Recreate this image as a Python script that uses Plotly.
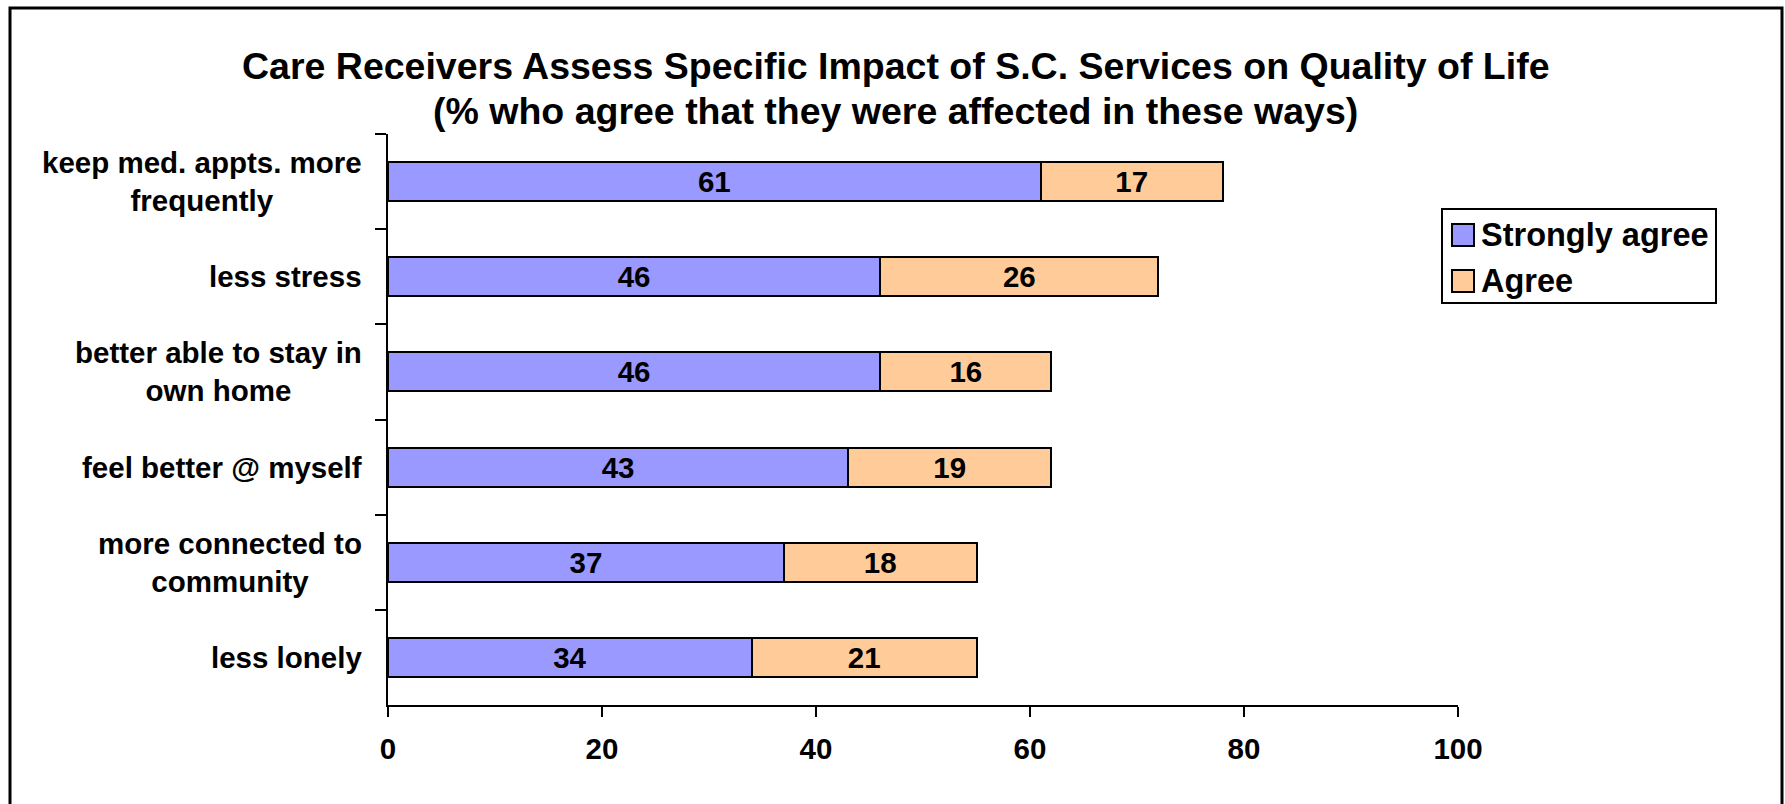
import plotly.graph_objects as go

# Survey items, top to bottom
categories = [
    "keep med. appts. more<br>frequently",
    "less stress",
    "better able to stay in<br>own home",
    "feel better @ myself",
    "more connected to<br>community",
    "less lonely",
]
series_names = ["Strongly agree", "Agree"]
strongly_agree = [61, 46, 46, 43, 37, 34]
agree = [17, 26, 16, 19, 18, 21]
x_ticks = [0, 20, 40, 60, 80, 100]

title_line1 = "Care Receivers Assess Specific Impact of S.C. Services on Quality of Life"
title_line2 = "(% who agree that they were affected in these ways)"

colors = ["#9999FF", "#FFCC99"]
FONT = "Liberation Sans, Arial, sans-serif"
LABEL_SIZE = 29.5

W, H = 1785, 804
L, R, T, B = 388, 327, 134, 99
PW, PH = W - L - R, H - T - B


def px(x):
    return (x - L) / PW


def py(y):
    return (H - B - y) / PH


fig = go.Figure()
for name, vals, col in zip(series_names, [strongly_agree, agree], colors):
    fig.add_trace(go.Bar(
        y=categories, x=vals, name=name, orientation="h",
        width=0.41,
        marker=dict(color=col, line=dict(color="black", width=2)),
        text=vals, textposition="inside", insidetextanchor="middle",
        constraintext="none",
        textfont=dict(family=FONT, size=LABEL_SIZE, color="black", weight="bold"),
        showlegend=False, hoverinfo="x+y+name",
    ))

annotations = []
# Category labels, centred line-by-line and right-aligned to the axis
for c in categories:
    annotations.append(dict(
        x=px(364), xref="paper", y=c, yref="y", text=c, showarrow=False,
        xanchor="right", yanchor="middle", align="center",
        font=dict(family=FONT, size=LABEL_SIZE, color="black", weight="bold"),
    ))

# Two-line title
for txt, yy in [(title_line1, 66), (title_line2, 111)]:
    annotations.append(dict(
        x=px(895), xref="paper", y=py(yy), yref="paper", text=txt,
        showarrow=False, xanchor="center", yanchor="middle",
        font=dict(family=FONT, size=37.5, color="black", weight="bold"),
    ))

shapes = []
# Outer chart frame
shapes.append(dict(type="rect", xref="paper", yref="paper",
                   x0=px(10), x1=px(1782), y0=py(8), y1=py(812),
                   line=dict(color="black", width=3), fillcolor="rgba(0,0,0,0)", layer="above"))

# Legend box
shapes.append(dict(type="rect", xref="paper", yref="paper",
                   x0=px(1442), x1=px(1716), y0=py(209), y1=py(303),
                   line=dict(color="black", width=2), fillcolor="white"))
for i, (name, col) in enumerate(zip(series_names, colors)):
    cy = 235 + 46 * i
    shapes.append(dict(type="rect", xref="paper", yref="paper",
                       x0=px(1452), x1=px(1474), y0=py(cy - 11), y1=py(cy + 11),
                       line=dict(color="black", width=2), fillcolor=col))
    annotations.append(dict(
        x=px(1479), xref="paper", y=py(cy), yref="paper", text=name,
        showarrow=False, xanchor="left", yanchor="middle",
        font=dict(family=FONT, size=32.5, color="black", weight="bold"),
    ))

fig.update_layout(
    barmode="stack",
    width=W, height=H,
    margin=dict(l=L, r=R, t=T, b=B, pad=0),
    paper_bgcolor="white", plot_bgcolor="white",
    annotations=annotations, shapes=shapes,
    xaxis=dict(
        range=[0, 100], tickvals=x_ticks, ticktext=[str(v) for v in x_ticks],
        ticks="outside", ticklen=10, tickwidth=2, tickcolor="black",
        showline=True, linewidth=2, linecolor="black",
        showgrid=False, zeroline=False,
        tickfont=dict(family=FONT, size=LABEL_SIZE, color="black", weight="bold"),
        ticklabelstandoff=7,
    ),
    yaxis=dict(
        categoryorder="array", categoryarray=categories, autorange="reversed",
        tickson="boundaries", ticks="outside", ticklen=11, tickwidth=2, tickcolor="black",
        showline=True, linewidth=2, linecolor="black",
        showgrid=False, zeroline=False, showticklabels=False,
    ),
    font=dict(family=FONT, color="black"),
)

fig.write_html("out.html")
